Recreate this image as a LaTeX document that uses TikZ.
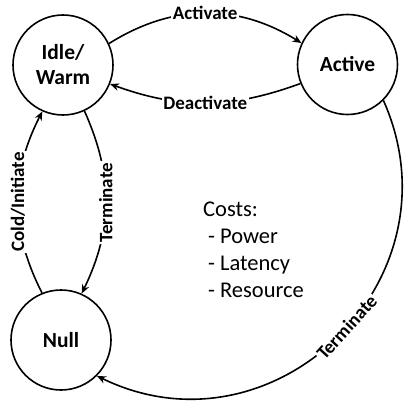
\documentclass[tikz,border=0pt]{standalone}
\usepackage{fontspec}
\setmainfont{Carlito}
\usetikzlibrary{arrows.meta}
\begin{document}
\begin{tikzpicture}[x=1pt,y=1pt,
  state/.style={circle,draw,line width=1.6pt,minimum size=100pt,inner sep=0pt,
    align=center,font=\bfseries\fontsize{21.5}{25}\selectfont},
  trans/.style={line width=1.6pt,-{Stealth[length=9pt,width=7.5pt]}},
  lbl/.style={fill=white,inner sep=1.5pt,font=\bfseries\fontsize{19}{21}\selectfont}]
\useasboundingbox (0,0) rectangle (406,405);
\node[state] (idle) at (63,340) {Idle/\\Warm};
\node[state] (active) at (347.5,340.5) {Active};
\node[state] (null) at (61,65) {Null};
\draw[trans] (idle.25) to[bend left=32] node[lbl] {Activate} (active.155);
\draw[trans] (active.202) to[bend left=20] node[lbl] {Deactivate} (idle.-22);
\draw[trans] (null.112) to[bend left=27] node[lbl,rotate=90] {Cold/Initiate} (idle.246);
\draw[trans] (idle.-65) to[bend left=25] node[lbl,rotate=90] {Terminate} (null.66);
\draw[trans] (active.-45) to[out=-66,in=-26,looseness=1.265] node[lbl,sloped,pos=0.47] {Terminate} (null.-45);
\node[align=left,anchor=north west,inner sep=0pt,font=\fontsize{22.5}{27}\selectfont] (costs) at (203,203) {Costs:\\\hspace*{0.22em}- Power\\\hspace*{0.22em}- Latency\\\hspace*{0.22em}- Resource};
\end{tikzpicture}
\end{document}
